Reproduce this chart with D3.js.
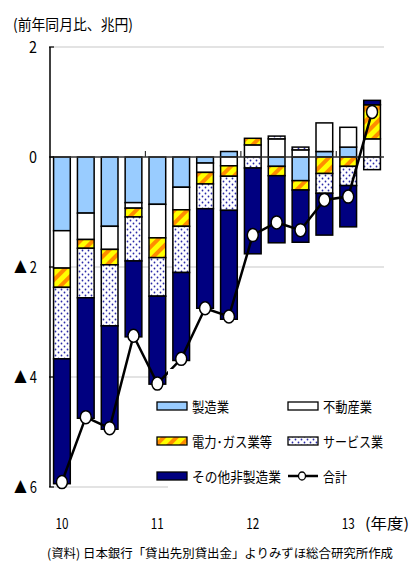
<!DOCTYPE html>
<html>
<head>
<meta charset="utf-8">
<script src="https://cdn.jsdelivr.net/npm/d3@7"></script>
<style>
  html, body { margin: 0; padding: 0; background: #fff; }
  svg { display: block; }
  text { font-family: "Noto Sans CJK JP", "DejaVu Sans", sans-serif; fill: #000; }
</style>
</head>
<body>
<svg id="chart" width="409" height="565"></svg>
<script>
// Quarters FY2010 Q1 .. FY2013 Q2
const quarters = ["10Q1","10Q2","10Q3","10Q4","11Q1","11Q2","11Q3","11Q4","12Q1","12Q2","12Q3","12Q4","13Q1","13Q2"];
const yearLabels = ["10","11","12","13"];
const yTicks = [2, 0, -2, -4, -6];

// Contributions (trillion yen, y/y)
const manufacturing = [-1.34, -1.02, -1.26, -0.83, -0.86, -0.55, -0.11, 0.10, 0.00, -0.17, -0.43, 0.10, 0.18, 0.00];
const realEstate    = [-0.68, -0.48, -0.42, -0.10, -0.61, -0.41, -0.17, -0.16, 0.22, 0.33, 0.13, 0.52, 0.36, 0.33];
const utilities     = [-0.35, -0.16, -0.28, -0.16, -0.36, -0.30, -0.21, -0.19, 0.12, -0.17, -0.17, -0.30, -0.17, 0.62];
const services      = [-1.30, -0.90, -1.11, -0.80, -0.70, -0.84, -0.45, -0.62, -0.20, 0.05, 0.05, -0.36, -0.35, -0.23];
const otherNonMfg   = [-2.27, -2.19, -1.88, -1.38, -1.60, -1.60, -1.81, -1.98, -1.56, -1.22, -0.95, -0.76, -0.75, 0.08];
const total         = [-5.91, -4.73, -4.93, -3.25, -4.12, -3.67, -2.75, -2.90, -1.42, -1.19, -1.33, -0.78, -0.72, 0.82];

const seriesNames = ["製造業", "不動産業", "電力･ガス業等", "サービス業", "その他非製造業"];
const seriesKeys = ["mfg", "re", "util", "svc", "oth"];
const seriesValues = [manufacturing, realEstate, utilities, services, otherNonMfg];

const rows = quarters.map((q, i) => {
  const r = { q };
  seriesKeys.forEach((k, j) => { r[k] = seriesValues[j][i]; });
  return r;
});

const svg = d3.select("#chart");
const defs = svg.append("defs");

// diagonal orange-on-yellow hatch
const hatch = defs.append("pattern")
  .attr("id", "hatch").attr("patternUnits", "userSpaceOnUse")
  .attr("width", 9).attr("height", 9)
  .attr("patternTransform", "rotate(45)");
hatch.append("rect").attr("width", 9).attr("height", 9).attr("fill", "#ffff00");
hatch.append("rect").attr("x", 0).attr("width", 4).attr("height", 9).attr("fill", "#ff8c00");

// blue dots on white
const dots = defs.append("pattern")
  .attr("id", "dots").attr("patternUnits", "userSpaceOnUse")
  .attr("width", 6).attr("height", 6);
dots.append("rect").attr("width", 6).attr("height", 6).attr("fill", "#ffffff");
dots.append("circle").attr("cx", 1.5).attr("cy", 1.5).attr("r", 0.9).attr("fill", "#2a2aa8");
dots.append("circle").attr("cx", 4.5).attr("cy", 4.5).attr("r", 0.9).attr("fill", "#2a2aa8");

const fills = {
  mfg: "#99ccff",
  re: "#ffffff",
  util: "url(#hatch)",
  svc: "url(#dots)",
  oth: "#000080"
};

const plotLeft = 50, plotRight = 384, plotTop = 47, plotBottom = 487;

const x = d3.scaleBand().domain(quarters).range([plotLeft, plotRight])
  .paddingInner(0.3).paddingOuter(0.15);
const y = d3.scaleLinear().domain([-6, 2]).range([plotBottom, plotTop]);

// horizontal grid lines
svg.append("g").selectAll("line")
  .data(yTicks.filter(t => t !== 0))
  .join("line")
  .attr("x1", plotLeft).attr("x2", plotRight)
  .attr("y1", d => y(d)).attr("y2", d => y(d))
  .attr("stroke", "#c8c8c8").attr("stroke-width", 1.2);

// stacked contributions
const stack = d3.stack().keys(seriesKeys).offset(d3.stackOffsetDiverging);
const layers = stack(rows);

svg.append("g").selectAll("g")
  .data(layers)
  .join("g")
  .attr("fill", d => fills[d.key])
  .selectAll("rect")
  .data(d => d.filter(s => s[1] - s[0] !== 0))
  .join("rect")
  .attr("x", d => x(d.data.q))
  .attr("width", x.bandwidth())
  .attr("y", d => y(Math.max(d[0], d[1])))
  .attr("height", d => Math.abs(y(d[0]) - y(d[1])))
  .attr("stroke", "#000").attr("stroke-width", 1.5);

// zero line with year separators
svg.append("line")
  .attr("x1", plotLeft).attr("x2", plotRight)
  .attr("y1", y(0)).attr("y2", y(0))
  .attr("stroke", "#333").attr("stroke-width", 1.5);

const yearStarts = quarters.filter(q => q.endsWith("Q1"));
svg.append("g").selectAll("line")
  .data(yearStarts.slice(1))
  .join("line")
  .attr("x1", d => x(d) - x.step() * x.paddingInner() / 2)
  .attr("x2", d => x(d) - x.step() * x.paddingInner() / 2)
  .attr("y1", y(0)).attr("y2", y(0) - 6)
  .attr("stroke", "#333").attr("stroke-width", 1.2);

// left axis
svg.append("line")
  .attr("x1", plotLeft).attr("x2", plotLeft).attr("y1", plotTop).attr("y2", plotBottom)
  .attr("stroke", "#000").attr("stroke-width", 1.5);
svg.append("g").selectAll("line")
  .data(yTicks)
  .join("line")
  .attr("x1", plotLeft - 1).attr("x2", plotLeft + 4)
  .attr("y1", d => y(d)).attr("y2", d => y(d))
  .attr("stroke", "#000").attr("stroke-width", 1.2);

svg.append("g").selectAll("text")
  .data(yTicks)
  .join("text")
  .attr("x", 37).attr("y", d => y(d) + 6)
  .attr("text-anchor", "end")
  .attr("font-size", 16)
  .attr("textLength", d => d < 0 ? 23 : 8)
  .attr("lengthAdjust", "spacingAndGlyphs")
  .text(d => d < 0 ? "▲ " + (-d) : String(d));

// total line
const lineGen = d3.line()
  .x((d, i) => x(quarters[i]) + x.bandwidth() / 2)
  .y(d => y(d));
svg.append("path")
  .datum(total)
  .attr("d", lineGen)
  .attr("fill", "none").attr("stroke", "#000").attr("stroke-width", 2.5);
svg.append("g").selectAll("ellipse")
  .data(total)
  .join("ellipse")
  .attr("cx", (d, i) => x(quarters[i]) + x.bandwidth() / 2)
  .attr("cy", d => y(d))
  .attr("rx", 5.5).attr("ry", 6.5)
  .attr("fill", "#fff").attr("stroke", "#000").attr("stroke-width", 1.5);

// x labels
svg.append("g").selectAll("text")
  .data(yearLabels)
  .join("text")
  .attr("x", (d, i) => x(yearStarts[i]) + x.bandwidth() / 2)
  .attr("y", 529)
  .attr("text-anchor", "middle")
  .attr("font-size", 15)
  .attr("textLength", 13).attr("lengthAdjust", "spacingAndGlyphs")
  .text(d => d);
svg.append("text")
  .attr("x", 365).attr("y", 529).attr("font-size", 15)
  .attr("textLength", 44).attr("lengthAdjust", "spacingAndGlyphs")
  .text("(年度)");

// unit title
svg.append("text")
  .attr("x", 13).attr("y", 30).attr("font-size", 15)
  .attr("textLength", 120).attr("lengthAdjust", "spacingAndGlyphs")
  .text("(前年同月比、兆円)");

// legend
const lg = svg.append("g");
lg.append("rect").attr("x", 168).attr("y", 369).attr("width", 216).attr("height", 124).attr("fill", "#fff");
const legendItems = [
  { key: "mfg", label: seriesNames[0], col: 0, row: 0, w: 37 },
  { key: "re", label: seriesNames[1], col: 1, row: 0, w: 49 },
  { key: "util", label: seriesNames[2], col: 0, row: 1, w: 80 },
  { key: "svc", label: seriesNames[3], col: 1, row: 1, w: 60 },
  { key: "oth", label: seriesNames[4], col: 0, row: 2, w: 89 }
];
const colX = [157, 288], rowY = [406, 441, 476];
legendItems.forEach(it => {
  lg.append("rect")
    .attr("x", colX[it.col]).attr("y", rowY[it.row] - 4)
    .attr("width", 30).attr("height", 8)
    .attr("fill", fills[it.key]).attr("stroke", "#000").attr("stroke-width", 1.3);
  lg.append("text")
    .attr("x", colX[it.col] + 35).attr("y", rowY[it.row] + 6)
    .attr("font-size", 14)
    .attr("textLength", it.w).attr("lengthAdjust", "spacingAndGlyphs")
    .text(it.label);
});
lg.append("line")
  .attr("x1", 288).attr("x2", 318).attr("y1", rowY[2]).attr("y2", rowY[2])
  .attr("stroke", "#000").attr("stroke-width", 2.5);
lg.append("ellipse")
  .attr("cx", 302).attr("cy", rowY[2]).attr("rx", 3.5).attr("ry", 4)
  .attr("fill", "#fff").attr("stroke", "#000").attr("stroke-width", 1.3);
lg.append("text")
  .attr("x", 323).attr("y", rowY[2] + 6).attr("font-size", 14)
  .attr("textLength", 24).attr("lengthAdjust", "spacingAndGlyphs")
  .text("合計");

// source note
svg.append("text")
  .attr("x", 47).attr("y", 558).attr("font-size", 12.5)
  .attr("textLength", 346).attr("lengthAdjust", "spacingAndGlyphs")
  .text("(資料) 日本銀行「貸出先別貸出金」よりみずほ総合研究所作成");
</script>
</body>
</html>
